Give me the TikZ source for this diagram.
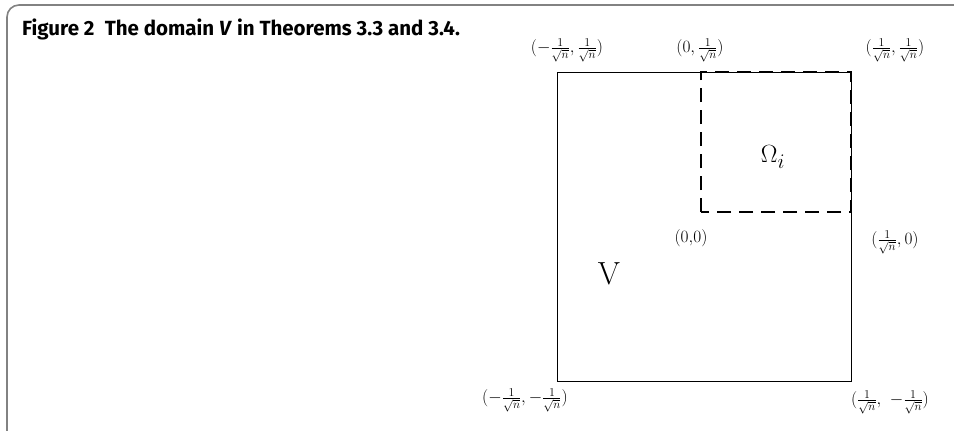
\documentclass[tikz,border=0pt]{standalone}
\usepackage{fontspec}
\setsansfont{Fira Sans}
\usetikzlibrary{positioning}
\definecolor{framegray}{RGB}{130,130,130}
\tikzset{
  frame/.style={draw=framegray,line width=1.6pt,rounded corners=12pt},
  whole dom/.style={draw=black,line width=0.9pt},
  sub dom/.style={draw=black,line width=2.4pt,dash pattern=on 14pt off 8pt},
  pt/.style={font=\fontsize{18.5}{21}\selectfont,inner sep=0pt},
  lbl/.style={font=\fontsize{32}{34}\selectfont,inner sep=0pt},
}
\begin{document}
\begin{tikzpicture}[x=1pt,y=-1pt]
  \useasboundingbox (0,0) rectangle (954,431);
  \draw[frame] (7,440) -- (7,5) -- (962,5);
  \node[font=\sffamily\bfseries\fontsize{20.5}{24}\selectfont,anchor=base west,inner sep=0pt] (title) at (22,35)
    {Figure 2\enspace The domain \textit{V} in Theorems 3.3 and 3.4.};
  % the square V and the dashed quarter
  \coordinate (sw) at (557,381);
  \coordinate (ne) at (851,72);
  \coordinate (o) at (701,212);
  \draw[whole dom] (sw) rectangle (ne);
  \draw[sub dom] (o) rectangle (ne);
  % corner labels
  \node[pt] (nw lbl) at (567,50) {$(-\frac{1}{\sqrt{n}},\frac{1}{\sqrt{n}})$};
  \node[pt] (n lbl) at (700,50) {$(0,\frac{1}{\sqrt{n}})$};
  \node[pt] (ne lbl) at (895,50) {$(\frac{1}{\sqrt{n}},\frac{1}{\sqrt{n}})$};
  \node[pt] (o lbl) at (691,238) {$(0{,}0)$};
  \node[pt] (e lbl) at (895,242) {$(\frac{1}{\sqrt{n}},0)$};
  \node[pt] (sw lbl) at (525,400) {$(-\frac{1}{\sqrt{n}},-\frac{1}{\sqrt{n}})$};
  \node[pt] (se lbl) at (890,402) {$(\frac{1}{\sqrt{n}},\ -\frac{1}{\sqrt{n}})$};
  \node[lbl] (V) at (609,274) {V};
  \node[lbl] (omega) at (773,157) {$\Omega_i$};
\end{tikzpicture}
\end{document}
